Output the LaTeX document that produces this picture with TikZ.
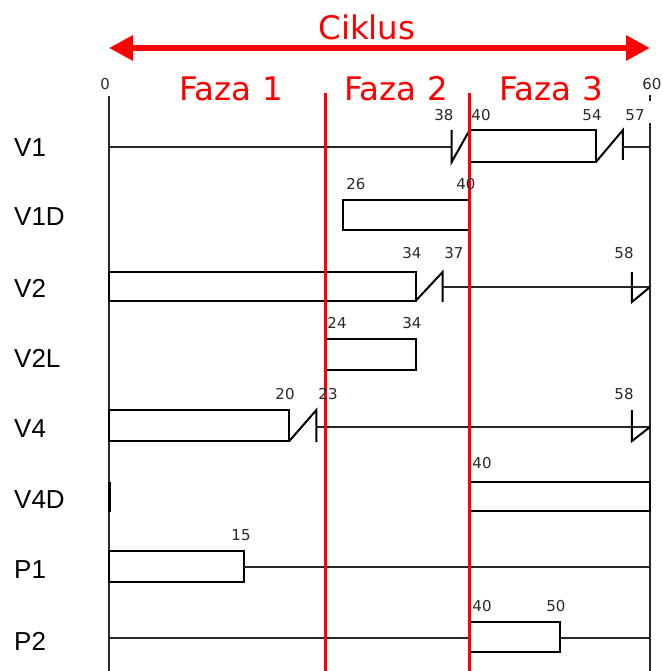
\documentclass[tikz,border=0pt]{standalone}
\usepackage{fontspec}
\setmainfont{Liberation Sans}
\newfontfamily\numfont{DejaVu Sans}
\usetikzlibrary{arrows.meta, positioning}
\definecolor{cR}{RGB}{255,0,0}
\definecolor{cW}{RGB}{40,40,40}

\begin{document}
\begin{tikzpicture}[x=9.0167pt, y=-1pt,
    sig/.style={draw=black, line width=2pt, line join=miter},
    wire/.style={draw=cW, line width=1.6pt},
    phase/.style={draw=cR, line width=2.4pt},
    rowlbl/.style={anchor=west, inner sep=0pt, font=\fontsize{26}{26}\selectfont},
    tlbl/.style={inner sep=0pt, text=cW, font=\numfont\fontsize{15}{15}\selectfont},
    fazlbl/.style={inner sep=0pt, text=cR, font=\numfont\fontsize{32.5}{32.5}\selectfont}]

    \useasboundingbox (-109pt,0pt) rectangle (553pt,-671pt);

    % Cycle arrow and phases
    \node[fazlbl] (ciklus) at (28.6,27) {Ciklus};
    \coordinate (cA) at (0,48);
    \coordinate (cB) at (60,48);
    \draw[cR, line width=6.5pt, {Triangle[length=24pt,width=24pt]}-{Triangle[length=24pt,width=24pt]}] (cA) -- (cB);
    \node[fazlbl] (faza1) at (13.53,89) {Faza 1};
    \node[fazlbl] (faza2) at (31.83,89) {Faza 2};
    \node[fazlbl] (faza3) at (49.02,89) {Faza 3};

    % Row labels
    \foreach \name/\yy in {V1/148, V1D/217, V2/288, V2L/358, V4/429, V4D/500, P1/570, P2/641}
        \node[rowlbl] (lbl-\name) at (-10.54,\yy) {\name};

    % Time axis
    \draw[wire] (0,96) -- (0,671);
    \draw[wire] (60,95) -- (60,101);
    \draw[wire] (60,123) -- (60,671);

    % V1
    \draw[wire] (0,147) -- (38,147);
    \draw[sig] (38,130) -- (38,162) -- (40,130);
    \draw[sig] (40,130) rectangle (54,162);
    \draw[sig] (54,162) -- (57,130) -- (57,160);
    \draw[wire] (57,147) -- (60,147);
    % V1D
    \draw[sig] (26,200) rectangle (40,230);
    % V2
    \draw[sig] (0,272) rectangle (34,301);
    \draw[sig] (34,301) -- (37,272) -- (37,302);
    \draw[wire] (37,287) -- (60,287);
    \draw[sig] (58,272) -- (58,302) -- (60,287);
    % V2L
    \draw[sig] (24,339) rectangle (34,370);
    % V4
    \draw[sig] (0,410) rectangle (20,441);
    \draw[sig] (20,441) -- (23,410) -- (23,442);
    \draw[wire] (23,427) -- (60,427);
    \draw[sig] (58,410) -- (58,441) -- (60,427);
    % V4D
    \draw[sig, line width=3pt] (0,482) -- (0,512);
    \draw[sig] (40,482) rectangle (60,511);
    % P1
    \draw[sig] (0,551) rectangle (15,582);
    \draw[wire] (15,567) -- (60,567);
    % P2
    \draw[wire] (0,638) -- (40,638);
    \draw[sig] (40,622) rectangle (50,652);
    \draw[wire] (50,638) -- (60,638);

    % Phase borders
    \draw[phase] (24,93) -- (24,671);
    \draw[phase] (40,93) -- (40,671);

    % Time marks
    \foreach \tm/\yy/\txt [count=\i] in {-0.44/84/0, 60.22/84/60,
            37.15/115/38, 41.26/115/40, 53.57/115/54, 58.34/115/57,
            27.39/184/26, 39.59/184/40,
            33.6/253/34, 38.26/253/37, 57.12/253/58,
            25.29/323/24, 33.6/323/34,
            19.52/394/20, 24.29/394/23, 57.12/394/58,
            41.37/463/40, 14.64/535/15,
            41.37/606/40, 49.57/606/50}
        \node[tlbl] (t\i) at (\tm,\yy) {\txt};

\end{tikzpicture}
\end{document}
